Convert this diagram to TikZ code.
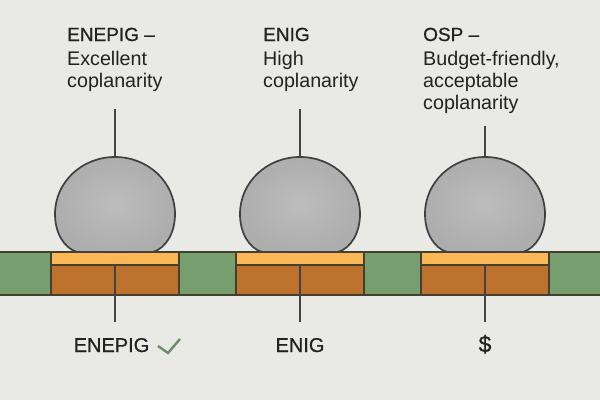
\documentclass[tikz,border=0pt]{standalone}
\usepackage{fontspec}
\setmainfont{Liberation Sans}
\newfontfamily\headfont[FakeBold=0.7]{Liberation Sans}
\definecolor{paper}{HTML}{E9E9E5}
\definecolor{mask}{HTML}{779E6F}
\definecolor{finish}{HTML}{FBB755}
\definecolor{copper}{HTML}{BD722E}
\definecolor{edge}{HTML}{443F2E}
\definecolor{ink}{HTML}{222222}

\begin{document}
\begin{tikzpicture}[x=1pt,y=-1pt]
\tikzstyle{leader}=[draw=ink!85, line width=1.3pt]
\tikzstyle{outline}=[draw=edge, line width=1.8pt]
\tikzstyle{head}=[anchor=base west, inner sep=0pt, font=\headfont\fontsize{19}{22}\selectfont, text=ink]
\tikzstyle{note}=[anchor=base west, inner sep=0pt, font=\fontsize{19.7}{22}\selectfont, text=ink]
\tikzstyle{tag}=[anchor=base, inner sep=0pt, font=\headfont\fontsize{20}{24}\selectfont, text=ink]

\fill[paper] (0,0) rectangle (600,400);
\useasboundingbox (0,0) rectangle (600,400);

\fill[mask] (0,252) rectangle (600,295);
\draw[outline] (0,252) -- (600,252);
\draw[outline] (0,295) -- (600,295);

\foreach \x/\n/\t in {115/a/109,300/b/109,485/c/126} {
\draw[outline, fill=copper] (\x-64,265) rectangle (\x+64,295);
\draw[outline, fill=finish] (\x-64,252) rectangle (\x+64,265);
\draw[draw=black!75, line width=1.7pt, shade, inner color=black!26, outer color=black!32]
  (\x-38,252) .. controls (\x-51,248) and (\x-60,233) .. (\x-60,214)
  .. controls (\x-60,182) and (\x-33,157) .. (\x,157)
  .. controls (\x+33,157) and (\x+60,182) .. (\x+60,214)
  .. controls (\x+60,233) and (\x+51,248) .. (\x+38,252) -- cycle;
\coordinate (top\n) at (\x,\t);
\coordinate (ball\n) at (\x,157);
\coordinate (pad\n) at (\x,265);
\coordinate (end\n) at (\x,322);
\draw[leader] (top\n) -- (ball\n);
\draw[leader] (pad\n) -- (end\n);
}

\node[head] (heada) at (67,41) {ENEPIG –};
\node[note] (notea1) at (67,65) {Excellent};
\node[note] (notea2) at (67,87) {coplanarity};
\node[head] (headb) at (263,41) {ENIG};
\node[note] (noteb1) at (263,65) {High};
\node[note] (noteb2) at (263,87) {coplanarity};
\node[head] (headc) at (423,41) {OSP –};
\node[note] (notec1) at (423,65) {Budget-friendly,};
\node[note] (notec2) at (423,87) {acceptable};
\node[note] (notec3) at (423,109) {coplanarity};

\node[tag] (taga) at (111.5,352) {ENEPIG};
\node[tag] (tagb) at (300,352) {ENIG};
\node[tag, font=\headfont\fontsize{23}{24}\selectfont] (tagc) at (485,352) {\$};
\draw[draw=mask!90!black, line width=2.4pt] (158,346) -- (168,353) -- (180,339);
\end{tikzpicture}
\end{document}
